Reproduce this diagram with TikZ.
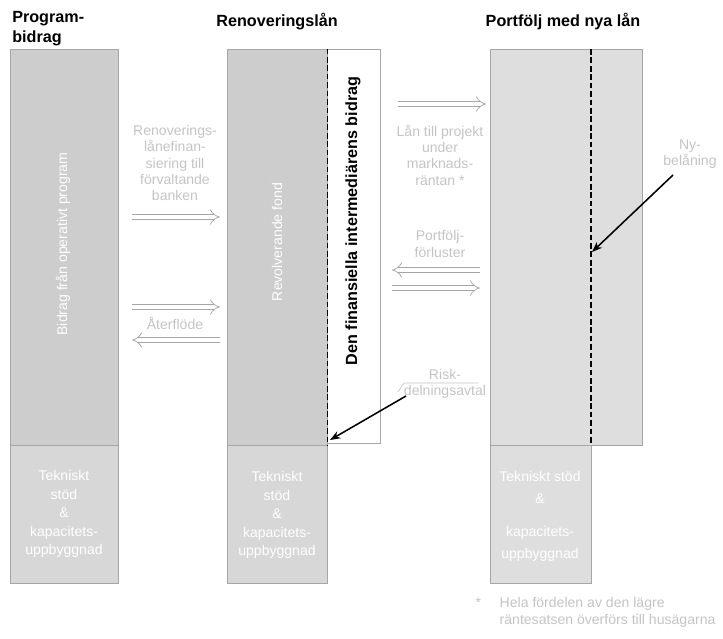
\documentclass[tikz,border=0pt]{standalone}
\usepackage{fontspec}
\setmainfont{Liberation Sans}
\usetikzlibrary{arrows.meta}
\definecolor{cdark}{HTML}{CDCDCD}
\definecolor{cbase}{HTML}{D7D7D7}
\definecolor{cpale}{HTML}{DEDEDE}
\definecolor{cedge}{HTML}{A6A6A6}
\definecolor{cfaint}{HTML}{C4C4C4}
\tikzset{
  every picture/.style={font=\fontsize{10}{11.6}\selectfont},
  part/.style={draw=cedge, fill=#1, line width=0.6pt, inner sep=0pt},
  part/.default=cdark,
  head/.style={font=\fontsize{11.5}{14}\selectfont\bfseries, align=left},
  faint/.style={text=cfaint, align=center, inner sep=1pt},
  inside/.style={text=white, align=center, inner sep=1pt},
  flow/.style={draw=cedge, double=white, double distance=3.4pt, line width=0.5pt, -{Implies}},
  pointer/.style={-{Stealth[length=2.6mm]}, line width=1.1pt},
  border/.style={dashed, dash pattern=on 4pt off 2pt, line width=1.2pt},
}
\begin{document}
\begin{tikzpicture}[x=0.025cm, y=-0.025cm,
  top/.style={part=cdark, minimum height=9.9cm},
  base/.style={part=cbase, minimum height=3.45cm}]
  \useasboundingbox (0,0) rectangle (723,638);
  % columns
  \node[top, minimum width=2.7cm] (progtop) at (64,247) {};
  \node[base, minimum width=2.7cm] (progbase) at (64,514) {};
  \node[top, minimum width=2.5cm] (lantop) at (277,247) {};
  \node[base, minimum width=2.5cm] (lanbase) at (277,514) {};
  \node[part=white, minimum width=1.325cm, minimum height=9.85cm] (bidragbox) at (353.5,246) {};
  \node[part=cpale, minimum width=3.8cm, minimum height=9.9cm] (porttop) at (566,247) {};
  \node[part=cpale, minimum width=2.525cm, minimum height=3.45cm] (portbase) at (540.5,514) {};
  \draw[border] (lantop.north east) -- (lantop.south east);
  \coordinate (dashtop) at (591,49);
  \coordinate (dashbot) at (591,445);
  \draw[border] (dashtop) -- (dashbot);
  % headers
  \node[head, anchor=north west, inner sep=0pt] (hprog) at (12,11) {Program-\\bidrag};
  \node[head] (hlan) at (277,22) {Renoveringslån};
  \node[head] (hport) at (563,22) {Portfölj med nya lån};
  % text inside columns
  \node[inside, rotate=90] (progtxt) at (63,244) {Bidrag från operativt program};
  \node[inside, rotate=90] (lantxt) at (277,242) {Revolverande fond};
  \node[inside] (progstod) at (64,514) {Tekniskt\\[1.6pt]stöd\\[1.6pt]\&\\[1.6pt]kapacitets-\\[1.6pt]uppbyggnad};
  \node[inside] (lanstod) at (277,515) {Tekniskt\\[1.6pt]stöd\\[1.6pt]\&\\[1.6pt]kapacitets-\\[1.6pt]uppbyggnad};
  \node[inside] (portstod) at (540,516) {Tekniskt stöd\\[4pt]\&\\[12pt]kapacitets-\\[4pt]uppbyggnad};
  \node[font=\fontsize{11.5}{13}\selectfont\bfseries, rotate=90] (bidragtxt) at (353,221) {Den finansiella intermediärens bidrag};
  % flows between the columns
  \coordinate (f1a) at (132,217); \coordinate (f1b) at (220,217);
  \coordinate (f2a) at (132,307); \coordinate (f2b) at (220,307);
  \coordinate (f3a) at (220,340); \coordinate (f3b) at (132,340);
  \coordinate (f4a) at (398,104); \coordinate (f4b) at (486,104);
  \coordinate (f5a) at (480,270); \coordinate (f5b) at (392,270);
  \coordinate (f6a) at (392,288); \coordinate (f6b) at (480,288);
  \draw[flow] (f1a) -- (f1b);
  \draw[flow] (f2a) -- (f2b);
  \draw[flow] (f3a) -- (f3b);
  \draw[flow] (f4a) -- (f4b);
  \draw[flow] (f5a) -- (f5b);
  \draw[flow] (f6a) -- (f6b);
  \node[faint] (finans) at (175,163) {Renoverings-\\lånefinan-\\siering till\\förvaltande\\banken};
  \node[faint] (ater) at (175,323) {Återflöde};
  \node[faint] (projekt) at (440,155) {Lån till projekt\\under\\marknads-\\räntan *};
  \node[faint] (forlust) at (440,244) {Portfölj-\\förluster};
  \node[faint] (risk) at (445,384) {Risk-\\delningsavtal};
  \node[faint] (ny) at (690,154) {Ny-\\belåning};
  \draw[cfaint, line width=0.5pt] (398,392) -- (404,383) -- (478,383);
  % pointers to the dashed lines
  \coordinate (riskfrom) at (406,396);
  \coordinate (riskto) at (330,440);
  \coordinate (nyfrom) at (673,175);
  \coordinate (nyto) at (592,252);
  \draw[pointer] (riskfrom) -- (riskto);
  \draw[pointer] (nyfrom) -- (nyto);
  % footnote
  \node[faint, anchor=west] (star) at (474,603) {*};
  \node[faint, anchor=north west, align=left] (fotnot) at (498,596) {Hela fördelen av den lägre\\räntesatsen överförs till husägarna};
\end{tikzpicture}
\end{document}
